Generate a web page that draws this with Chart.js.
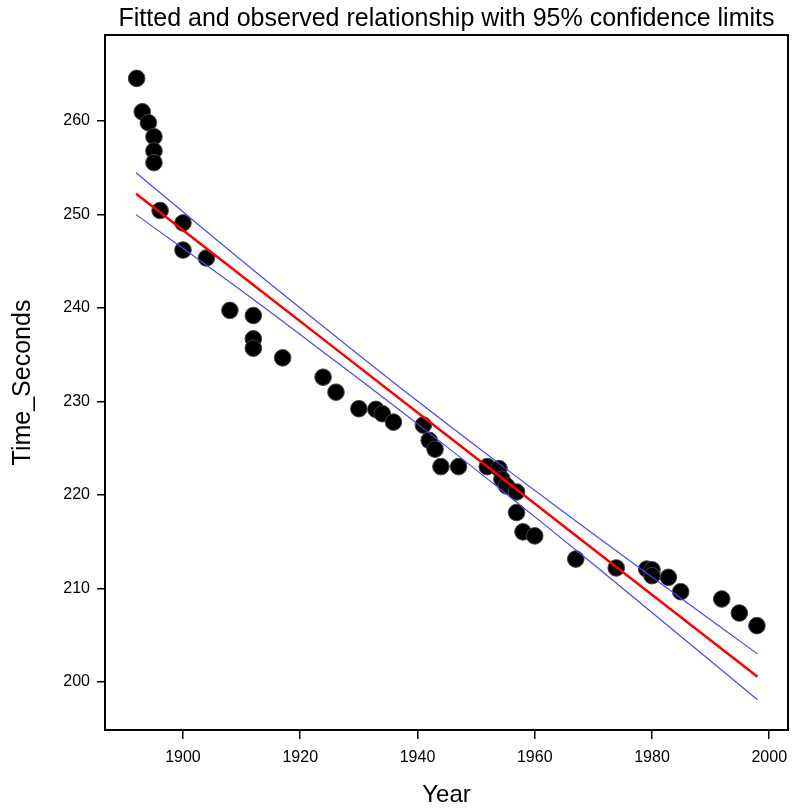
<!DOCTYPE html>
<html>
<head>
<meta charset="utf-8">
<script src="https://cdn.jsdelivr.net/npm/chart.js@4"></script>
<style>
  body { margin: 0; background: #fff; }
  #wrap { width: 801px; height: 812px; }
</style>
</head>
<body>
<div id="wrap"><canvas id="fitChart" width="801" height="812"></canvas></div>
<script>
// observed records
const years = [1892.1, 1893.05, 1894.1, 1895.05, 1895.05, 1895.05, 1896.1, 1900, 1900, 1904,
  1908, 1912, 1912, 1912, 1917, 1923.9, 1926.1, 1930, 1932.9, 1934, 1935.9,
  1941, 1942, 1943, 1944, 1947, 1951.9, 1953.9, 1954.4, 1955.2, 1956.9, 1956.9, 1958, 1960, 1967,
  1973.9, 1979.1, 1980, 1980, 1982.8, 1984.9, 1991.9, 1994.9, 1997.9];
const seconds = [264.56, 260.99, 259.82, 258.32, 256.8, 255.55, 250.43, 249.1, 246.2, 245.35,
  239.75, 239.2, 236.7, 235.7, 234.67, 232.6, 231.0, 229.23, 229.16, 228.7, 227.8,
  227.48, 225.85, 224.9, 223.04, 223.04, 223.04, 222.83, 221.7, 220.97, 220.33, 218.13, 216.06, 215.63, 213.15,
  212.2, 212.08, 212.0, 211.37, 211.2, 209.66, 208.88, 207.38, 206.03];

// fitted line and 95% limits
const lineYears = [1892, 1910, 1925, 1940, 1955, 1970, 1985, 1998];
const fitted = [252.23, 243.46, 236.14, 228.83, 221.52, 214.21, 206.89, 200.56];
const upper = [254.47, 245.08, 237.49, 230.05, 222.85, 215.83, 208.94, 203.01];
const lower = [249.99, 241.84, 234.79, 227.61, 220.19, 212.59, 204.84, 198.11];

const xTicks = [1900, 1920, 1940, 1960, 1980, 2000];
const yTicks = [200, 210, 220, 230, 240, 250, 260];

function pts(xs, ys) {
  return xs.map((x, i) => ({ x: x, y: ys[i] }));
}

const FONT = "'Liberation Sans', Arial, Helvetica, sans-serif";
Chart.defaults.color = '#000';
Chart.defaults.font.family = FONT;

// box round the plot area
const frame = {
  id: 'frame',
  afterDraw(chart) {
    const a = chart.chartArea, c = chart.ctx;
    c.save();
    c.strokeStyle = '#000';
    c.lineWidth = 2;
    c.strokeRect(a.left, a.top, a.right - a.left, a.bottom - a.top);
    c.restore();
  }
};

new Chart(document.getElementById('fitChart'), {
  type: 'scatter',
  data: {
    datasets: [
      {
        label: 'upper',
        data: pts(lineYears, upper),
        showLine: true,
        borderColor: '#4646ff',
        borderWidth: 1.2,
        pointRadius: 0,
        tension: 0.4
      },
      {
        label: 'lower',
        data: pts(lineYears, lower),
        showLine: true,
        borderColor: '#4646ff',
        borderWidth: 1.2,
        pointRadius: 0,
        tension: 0.4
      },
      {
        label: 'fit',
        data: pts(lineYears, fitted),
        showLine: true,
        borderColor: '#ff0000',
        borderWidth: 2.5,
        pointRadius: 0,
        tension: 0
      },
      {
        label: 'observed',
        data: pts(years, seconds),
        backgroundColor: '#000',
        borderColor: '#444',
        borderWidth: 1,
        pointRadius: 8.3,
        pointHoverRadius: 8.3
      }
    ]
  },
  options: {
    responsive: false,
    animation: false,
    layout: { padding: { left: 0, right: 13, top: 0, bottom: 0 } },
    plugins: {
      legend: { display: false },
      tooltip: { enabled: false },
      title: {
        display: true,
        fullSize: false,
        text: 'Fitted and observed relationship with 95% confidence limits',
        font: { size: 25, weight: 'normal', family: FONT },
        color: '#000',
        padding: { top: 4.5, bottom: 0.5 }
      }
    },
    scales: {
      x: {
        type: 'linear',
        min: 1886.7,
        max: 2003.2,
        afterBuildTicks(s) { s.ticks = xTicks.map(v => ({ value: v })); },
        afterFit(s) { s.height = 82; },
        border: { display: false },
        grid: { drawOnChartArea: false, drawTicks: true, tickLength: 9, color: '#000', lineWidth: 1.5 },
        ticks: { font: { size: 16 }, padding: 9, maxRotation: 0, callback: v => String(v) },
        title: { display: true, text: 'Year', font: { size: 24 }, padding: { top: 4, bottom: 2.6 } }
      },
      y: {
        type: 'linear',
        min: 194.87,
        max: 269.2,
        afterBuildTicks(s) { s.ticks = yTicks.map(v => ({ value: v })); },
        afterFit(s) { s.width = 105; },
        border: { display: false },
        grid: { drawOnChartArea: false, drawTicks: true, tickLength: 8, color: '#000', lineWidth: 1.5 },
        ticks: { font: { size: 16 }, padding: 7, callback: v => String(v) },
        title: { display: true, text: 'Time_Seconds', font: { size: 25 }, padding: { top: 8, bottom: 4 } }
      }
    }
  },
  plugins: [frame]
});
</script>
</body>
</html>
